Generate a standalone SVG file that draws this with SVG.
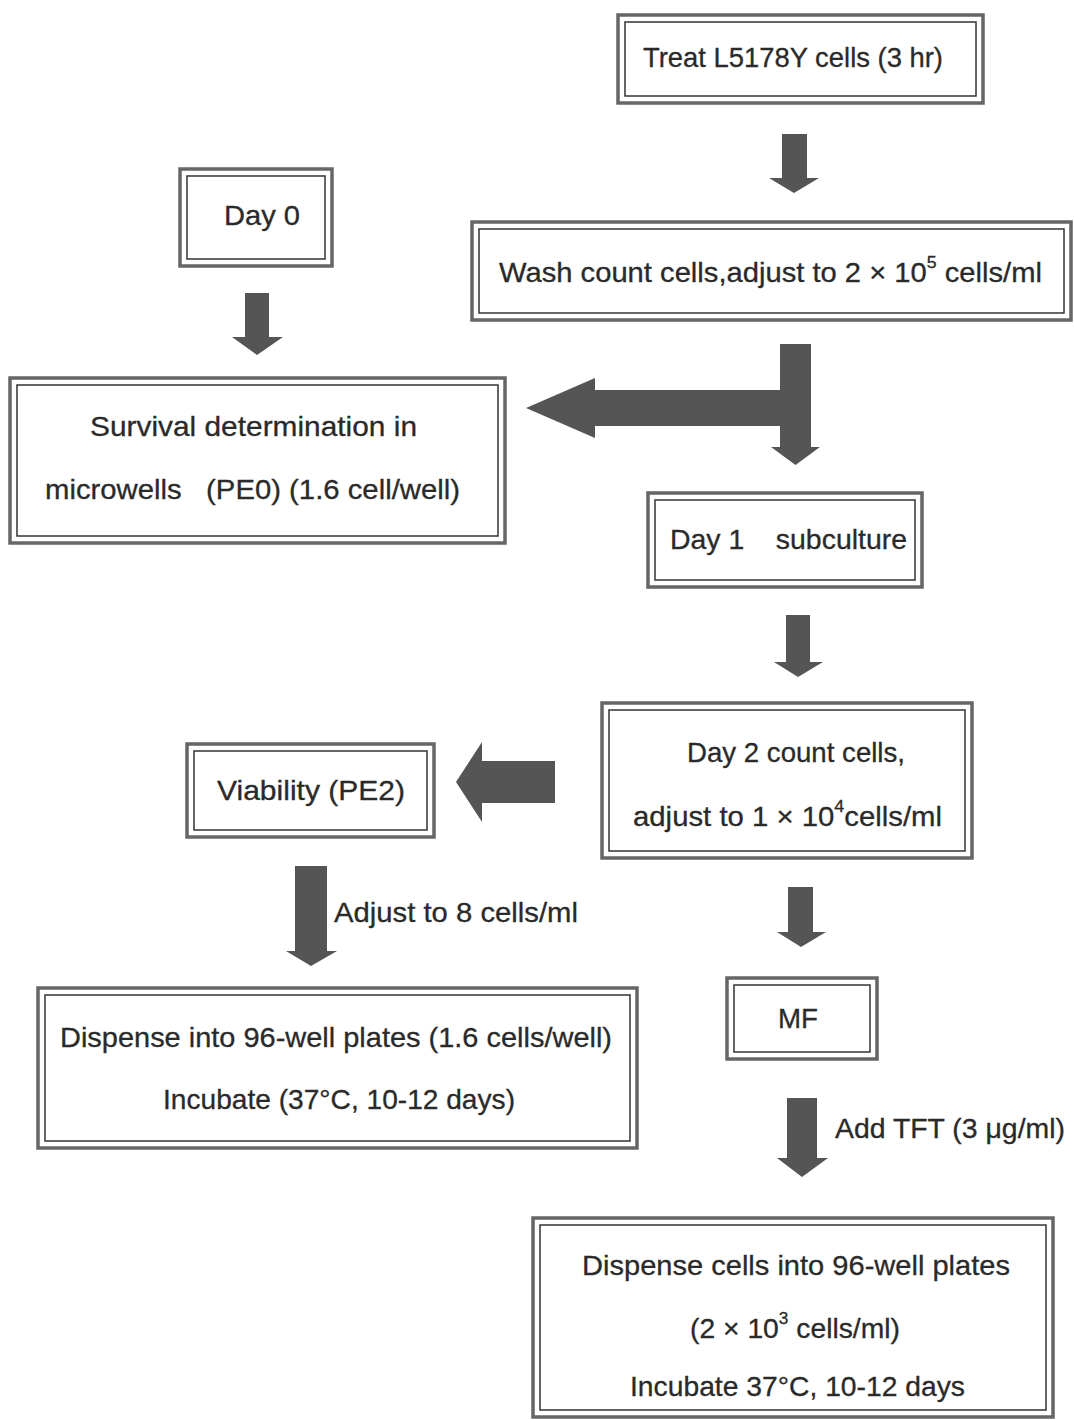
<svg xmlns="http://www.w3.org/2000/svg" width="1074" height="1420" viewBox="0 0 1074 1420">
<style>
.bo{fill:#fff;stroke:#666;stroke-width:3.5}
.bi{fill:none;stroke:#333;stroke-width:1.5}
.t{font-family:"Liberation Sans",Arial,sans-serif;font-size:28px;fill:#2a2a2a;stroke:#2a2a2a;stroke-width:0.3}
.sup{font-size:17px}
.ar{fill:#555}
</style>
<rect width="1074" height="1420" fill="#fff"/>
<g id="connectors">
<polygon class="ar" points="782,134 807,134 807,178 819,178 794,193 769,178 782,178"/>
<polygon class="ar" points="245,293 269,293 269,337 283,337 257,355 232,337 245,337"/>
<polygon class="ar" points="780,344 811,344 811,447 820,447 795.5,465 771,447 780,447 780,426 595,426 595,438 526,408 595,378 595,390 780,390"/>
<polygon class="ar" points="786,615 810,615 810,662 823,662 798,677 774,662 786,662"/>
<polygon class="ar" points="555,761 555,803 482,803 482,822 456,782 482,742 482,761"/>
<polygon class="ar" points="295,866 327,866 327,951 337,951 311,966 286,951 295,951"/>
<polygon class="ar" points="788,887 813,887 813,932 826,932 801,947 777,932 788,932"/>
<polygon class="ar" points="787,1098 817,1098 817,1158 828,1158 802,1177 777,1158 787,1158"/>
</g>
<g id="n_treat">
<rect class="bo" x="618" y="15" width="365" height="88"/>
<rect class="bi" x="625" y="22" width="351" height="74"/>
<text class="t" x="643" y="67" textLength="300" lengthAdjust="spacingAndGlyphs">Treat L5178Y cells (3 hr)</text>
</g>
<g id="n_day0">
<rect class="bo" x="180" y="169" width="152" height="97"/>
<rect class="bi" x="187" y="176" width="138" height="83"/>
<text class="t" x="224" y="225" textLength="76" lengthAdjust="spacingAndGlyphs">Day 0</text>
</g>
<g id="n_wash">
<rect class="bo" x="472" y="222" width="599" height="98"/>
<rect class="bi" x="479" y="229" width="585" height="84"/>
<text class="t" x="499" y="282" textLength="543" lengthAdjust="spacingAndGlyphs">Wash count cells,adjust to 2 × 10<tspan class="sup" dy="-14">5</tspan><tspan dy="14"> cells/ml</tspan></text>
</g>
<g id="n_survival">
<rect class="bo" x="10" y="378" width="495" height="165"/>
<rect class="bi" x="17" y="385" width="481" height="151"/>
<text class="t" x="90" y="436" textLength="327" lengthAdjust="spacingAndGlyphs">Survival determination in</text>
<text class="t" x="45" y="499" xml:space="preserve" textLength="415" lengthAdjust="spacingAndGlyphs">microwells   (PE0) (1.6 cell/well)</text>
</g>
<g id="n_day1">
<rect class="bo" x="648" y="493" width="274" height="94"/>
<rect class="bi" x="655" y="500" width="260" height="80"/>
<text class="t" x="670" y="549" xml:space="preserve" textLength="237" lengthAdjust="spacingAndGlyphs">Day 1    subculture</text>
</g>
<g id="n_day2">
<rect class="bo" x="602" y="703" width="370" height="155"/>
<rect class="bi" x="609" y="710" width="356" height="141"/>
<text class="t" x="687" y="762" textLength="218" lengthAdjust="spacingAndGlyphs">Day 2 count cells,</text>
<text class="t" x="633" y="826" textLength="309" lengthAdjust="spacingAndGlyphs">adjust to 1 × 10<tspan class="sup" dy="-14">4</tspan><tspan dy="14">cells/ml</tspan></text>
</g>
<g id="n_viability">
<rect class="bo" x="187" y="744" width="247" height="93"/>
<rect class="bi" x="194" y="751" width="233" height="79"/>
<text class="t" x="217" y="800" textLength="188" lengthAdjust="spacingAndGlyphs">Viability (PE2)</text>
</g>
<text id="l_adjust8" class="t" x="334" y="922" textLength="244" lengthAdjust="spacingAndGlyphs">Adjust to 8 cells/ml</text>
<g id="n_dispense1">
<rect class="bo" x="38" y="988" width="599" height="160"/>
<rect class="bi" x="45" y="995" width="585" height="146"/>
<text class="t" x="60" y="1047" textLength="552" lengthAdjust="spacingAndGlyphs">Dispense into 96-well plates (1.6 cells/well)</text>
<text class="t" x="163" y="1109" textLength="352" lengthAdjust="spacingAndGlyphs">Incubate (37°C, 10-12 days)</text>
</g>
<g id="n_mf">
<rect class="bo" x="727" y="978" width="150" height="81"/>
<rect class="bi" x="734" y="985" width="136" height="67"/>
<text class="t" x="778" y="1028" textLength="40" lengthAdjust="spacingAndGlyphs">MF</text>
</g>
<text id="l_tft" class="t" x="835" y="1138" textLength="230" lengthAdjust="spacingAndGlyphs">Add TFT (3 μg/ml)</text>
<g id="n_dispense2">
<rect class="bo" x="533" y="1218" width="520" height="199"/>
<rect class="bi" x="540" y="1225" width="506" height="185"/>
<text class="t" x="582" y="1275" textLength="428" lengthAdjust="spacingAndGlyphs">Dispense cells into 96-well plates</text>
<text class="t" x="690" y="1338" textLength="210" lengthAdjust="spacingAndGlyphs">(2 × 10<tspan class="sup" dy="-14">3</tspan><tspan dy="14"> cells/ml)</tspan></text>
<text class="t" x="630" y="1396" textLength="335" lengthAdjust="spacingAndGlyphs">Incubate 37°C, 10-12 days</text>
</g>
</svg>
